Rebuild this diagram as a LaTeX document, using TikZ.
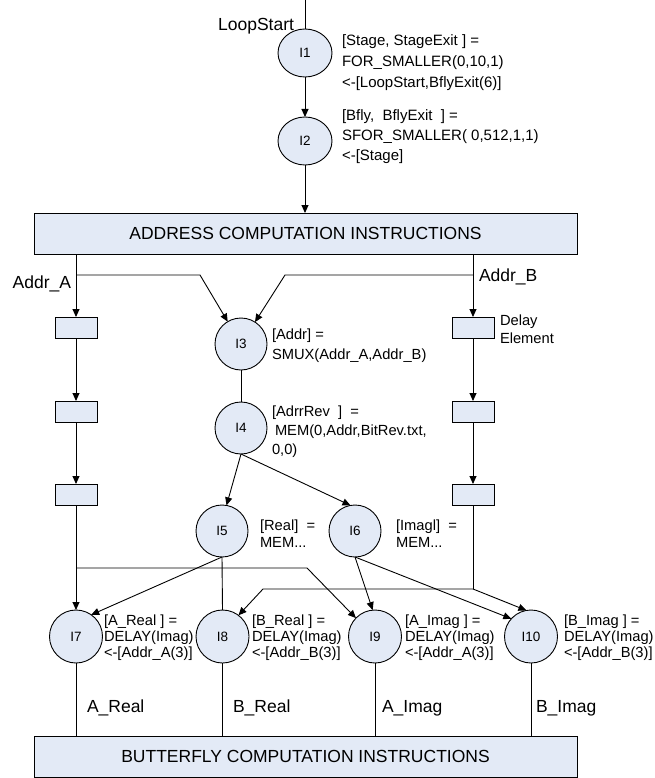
\documentclass[tikz,border=0pt]{standalone}
\usepackage{fontspec}
\setmainfont{Liberation Sans}
\usetikzlibrary{arrows.meta,shapes.geometric}

\definecolor{nodefill}{RGB}{227,234,246}

\begin{document}
\begin{tikzpicture}[x=1pt,y=-1pt,
  every node/.style={inner sep=0pt, outer sep=0pt},
  conn/.style={line width=0.9pt, draw=black},
  arr/.style={conn, -{Triangle[length=8pt,width=7pt]}},
  inst/.style={circle, draw, line width=0.9pt, fill=nodefill, minimum size=52pt,
    font=\fontsize{13.5}{16}\selectfont},
  loopinst/.style={inst, ellipse, minimum width=54pt, minimum height=48pt},
  outinst/.style={inst, minimum size=53pt},
  delaybox/.style={rectangle, draw, line width=0.9pt, fill=nodefill,
    minimum width=42pt, minimum height=21pt},
  blockbox/.style={rectangle, draw, line width=0.9pt, fill=nodefill,
    minimum width=543pt, minimum height=41pt, font=\fontsize{17.5}{21}\selectfont},
  sig/.style={font=\fontsize{17.5}{21}\selectfont},
  note/.style={align=left, anchor=west, font=\fontsize{14.7}{20}\selectfont},
]
\useasboundingbox (0,0) rectangle (655,778);

% instruction nodes
\node[loopinst] (I1) at (305,53) {I1};
\node[loopinst] (I2) at (305,141) {I2};
\node[blockbox] (acomp) at (305.5,233.5) {ADDRESS COMPUTATION INSTRUCTIONS};
\node[inst] (I3) at (241,344) {I3};
\node[inst] (I4) at (241,428) {I4};
\node[inst] (I5) at (222,531) {I5};
\node[inst] (I6) at (355,531) {I6};
\node[outinst] (I7) at (76,636.5) {I7};
\node[outinst] (I8) at (222.5,636.5) {I8};
\node[outinst] (I9) at (375,636.5) {I9};
\node[outinst] (I10) at (531,636.5) {I10};
\node[blockbox] (bfly) at (305.5,756.5) {BUTTERFLY COMPUTATION INSTRUCTIONS};

% delay elements
\node[delaybox] (dA1) at (76,327.5) {};
\node[delaybox] (dA2) at (76,411.5) {};
\node[delaybox] (dA3) at (76,494.5) {};
\node[delaybox] (dB1) at (473,327.5) {};
\node[delaybox] (dB2) at (473,411.5) {};
\node[delaybox] (dB3) at (473,494.5) {};

% routing points
\coordinate (entry) at (305,0);
\coordinate (ja) at (76,275);
\coordinate (ka) at (200,275);
\coordinate (jb) at (473,275);
\coordinate (kb) at (285,275);
\coordinate (ha) at (76,568);
\coordinate (hb) at (307,568);
\coordinate (jr) at (473,589);
\coordinate (kr) at (263,589);

% loop control
\draw[conn] (entry) -- (I1);
\draw[arr] (I1) -- (I2);
\draw[arr] (I2) -- (I2 |- acomp.north);

% address paths
\draw[arr] (acomp.south -| dA1) -- (dA1);
\draw[arr] (ja) -- (ka) -- (I3);
\draw[arr] (acomp.south -| dB1) -- (dB1);
\draw[arr] (jb) -- (kb) -- (I3);
\draw[arr] (dA1) -- (dA2);
\draw[arr] (dA2) -- (dA3);
\draw[arr] (dB1) -- (dB2);
\draw[arr] (dB2) -- (dB3);

% memory reads
\draw[conn] (I3) -- (I4);
\draw[arr] (I4.south) -- (I5.80);
\draw[arr] (I4.south) -- (I6.100);

% delayed outputs
\draw[arr] (dA3) -- (I7);
\draw[arr] (I5.south) -- (I7.55);
\draw[conn] (I5.south) -- (I8.north);
\draw[arr] (ha) -- (hb) -- (I9.136);
\draw[arr] (I6.south) -- (I9.95);
\draw[arr] (I6.south) -- (I10.138);
\draw[conn] (dB3) -- (jr);
\draw[arr] (jr) -- (kr) -- (I8.53);
\draw[arr] (jr) -- (I10.100);

% into the butterfly block
\draw[conn] (I7) -- (I7 |- bfly.north);
\draw[conn] (I8) -- (I8 |- bfly.north);
\draw[conn] (I9) -- (I9 |- bfly.north);
\draw[conn] (I10) -- (I10 |- bfly.north);

% signal labels
\node[sig, anchor=east] (lblLoop) at (294,26) {LoopStart};
\node[sig, anchor=east] (lblA) at (71,284) {Addr\_A};
\node[sig, anchor=west] (lblB) at (479,277) {Addr\_B};
\node[note, font=\fontsize{14.7}{18}\selectfont] (lblDelay) at (500,329) {Delay\\Element};
\node[sig, anchor=west] (lblAR) at (87,708) {A\_Real};
\node[sig, anchor=west] (lblBR) at (233,708) {B\_Real};
\node[sig, anchor=west] (lblAI) at (382,708) {A\_Imag};
\node[sig, anchor=west] (lblBI) at (536,708) {B\_Imag};

% instruction annotations
\node[note, font=\fontsize{15}{21}\selectfont] (n1) at (342,63) {[Stage, StageExit ] =\\FOR\_SMALLER(0,10,1)\\<-[LoopStart,BflyExit(6)]};
\node[note, font=\fontsize{15}{20}\selectfont] (n2) at (342,137) {[Bfly,\ \ BflyExit\ \ ] =\\SFOR\_SMALLER( 0,512,1,1)\\<-[Stage]};
\node[note] (n3) at (272,346) {[Addr] =\\SMUX(Addr\_A,Addr\_B)};
\node[note, font=\fontsize{14.7}{19}\selectfont] (n4) at (272,432) {[AdrrRev\ \ ]\ \ =\\\hspace*{3pt}MEM(0,Addr,BitRev.txt,\\0,0)};
\node[note, font=\fontsize{14.7}{17}\selectfont] (n5) at (260,533.5) {[Real]\ \ =\\MEM...};
\node[note, font=\fontsize{14.7}{17}\selectfont] (n6) at (396,533.5) {[Imagl]\ \ =\\MEM...};
\node[note, font=\fontsize{14.7}{16}\selectfont] (n7) at (104,638) {[A\_Real ] =\\DELAY(Imag)\\<-[Addr\_A(3)]};
\node[note, font=\fontsize{14.7}{16}\selectfont] (n8) at (252,638) {[B\_Real ] =\\DELAY(Imag)\\<-[Addr\_B(3)]};
\node[note, font=\fontsize{14.7}{16}\selectfont] (n9) at (405,638) {[A\_Imag ] =\\DELAY(Imag)\\<-[Addr\_A(3)]};
\node[note, font=\fontsize{14.7}{16}\selectfont] (n10) at (564,638) {[B\_Imag ] =\\DELAY(Imag)\\<-[Addr\_B(3)]};
\end{tikzpicture}
\end{document}
